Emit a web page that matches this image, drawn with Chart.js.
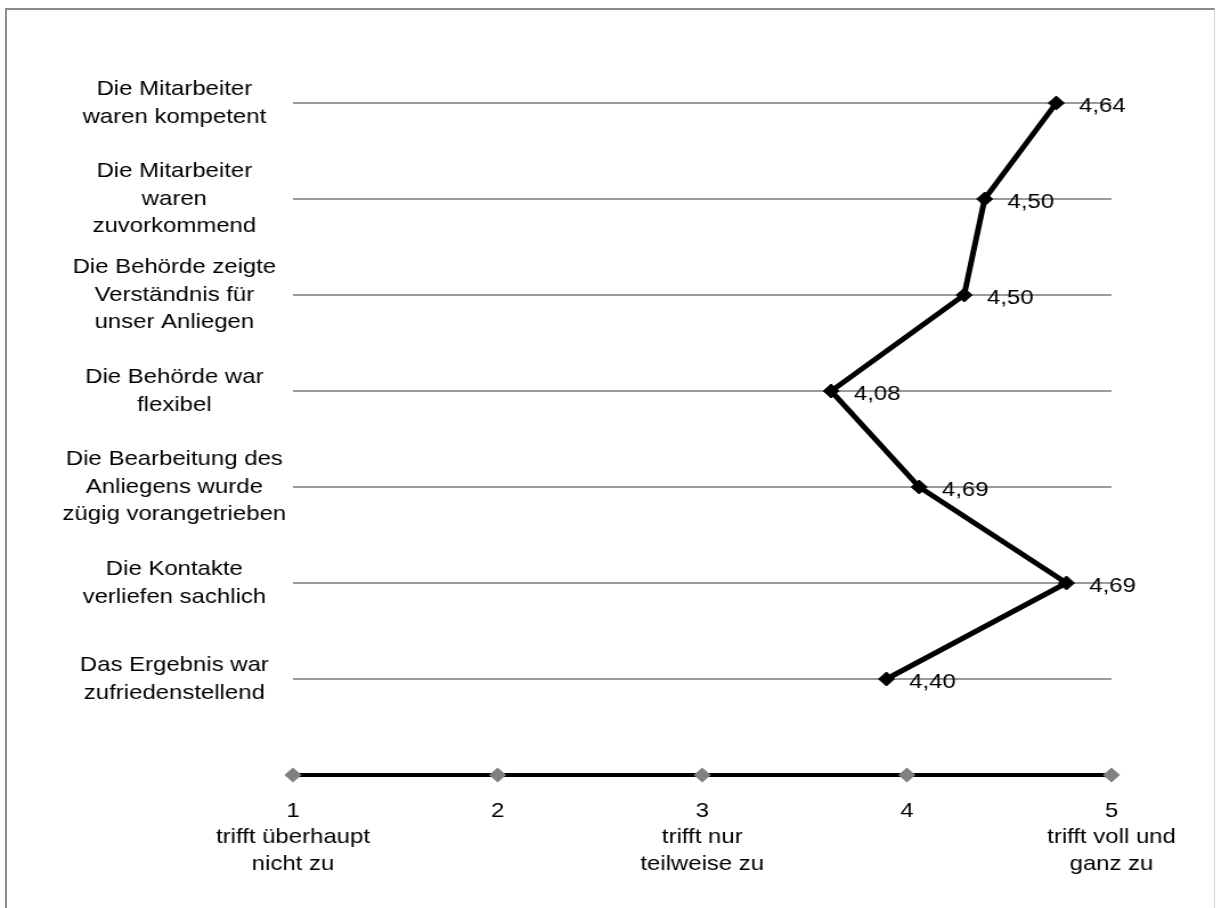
<!DOCTYPE html>
<html>
<head>
<meta charset="utf-8">
<script src="https://cdn.jsdelivr.net/npm/chart.js@4.4.1/dist/chart.umd.min.js"></script>
<style>
  html, body { margin: 0; padding: 0; background: #fff; overflow: hidden; }
  #frame {
    position: absolute; left: 5px; top: 8px; width: 1207px; height: 950px;
    border-left: 2px solid #8c8c8c; border-top: 2px solid #8c8c8c; border-right: 1px solid #d4d4d4;
  }
  #chart { position: absolute; left: 0; top: 0; transform: scaleX(1.14); transform-origin: 0 0; }
</style>
</head>
<body>
<div id="frame"></div>
<canvas id="chart" width="1067" height="908"></canvas>
<script>
// statements (the last, empty one is the row of the scale line)
const statements = [
  ['Die Mitarbeiter', 'waren kompetent'],
  ['Die Mitarbeiter', 'waren', 'zuvorkommend'],
  ['Die Behörde zeigte', 'Verständnis für', 'unser Anliegen'],
  ['Die Behörde war', 'flexibel'],
  ['Die Bearbeitung des', 'Anliegens wurde', 'zügig vorangetrieben'],
  ['Die Kontakte', 'verliefen sachlich'],
  ['Das Ergebnis war', 'zufriedenstellend'],
  ''
];

// where the points sit in the picture
const positions = [4.73, 4.38, 4.28, 3.63, 4.06, 4.78, 3.90];
// the numbers printed next to them
const valueLabels = ['4,64', '4,50', '4,50', '4,08', '4,69', '4,69', '4,40'];

const scaleSteps = [1, 2, 3, 4, 5];
const scaleTexts = [
  ['1', 'trifft überhaupt', 'nicht zu'],
  ['2'],
  ['3', 'trifft nur', 'teilweise zu'],
  ['4'],
  ['5', 'trifft voll und', 'ganz zu']
];

const FONT = '"Liberation Sans", Arial, sans-serif';
Chart.defaults.color = '#000';
Chart.defaults.font.family = FONT;

// prints the value text to the right of each point
const valueLabelPlugin = {
  id: 'valueLabels',
  afterDatasetsDraw(chart) {
    const ctx = chart.ctx;
    const meta = chart.getDatasetMeta(1);
    ctx.save();
    ctx.font = '21px ' + FONT;
    ctx.fillStyle = '#000';
    ctx.textAlign = 'left';
    ctx.textBaseline = 'middle';
    meta.data.forEach((pt, i) => {
      if (valueLabels[i] === undefined) return;
      ctx.fillText(valueLabels[i], pt.x + 20, pt.y + 3);
    });
    ctx.restore();
  }
};

new Chart(document.getElementById('chart'), {
  type: 'line',
  data: {
    labels: statements,
    datasets: [
      {
        label: 'Skala',
        data: scaleSteps.map(v => ({ x: v, y: '' })),
        borderColor: '#000',
        borderWidth: 4,
        pointStyle: 'rectRot',
        pointRadius: 7.5,
        pointBackgroundColor: '#808080',
        pointBorderColor: '#808080',
        pointBorderWidth: 0,
        clip: false,
        tension: 0
      },
      {
        label: 'Bewertung',
        data: positions,
        borderColor: '#000',
        borderWidth: 5,
        pointStyle: 'rectRot',
        pointRadius: 7,
        pointBackgroundColor: '#000',
        pointBorderColor: '#000',
        pointBorderWidth: 1,
        clip: false,
        tension: 0
      }
    ]
  },
  options: {
    responsive: false,
    animation: false,
    indexAxis: 'y',
    layout: { padding: { top: 103, right: 92, left: 0, bottom: 0 } },
    plugins: {
      legend: { display: false },
      tooltip: { enabled: false }
    },
    scales: {
      y: {
        type: 'category',
        offset: false,
        afterFit: s => { s.width = 257; },
        border: { display: false },
        grid: {
          drawTicks: false,
          lineWidth: 2,
          color: c => (c.index === statements.length - 1 ? 'rgba(0,0,0,0)' : '#9a9a9a')
        },
        ticks: {
          crossAlign: 'center',
          padding: 6,
          font: { size: 21, lineHeight: 1.31 }
        }
      },
      x: {
        type: 'linear',
        min: 1,
        max: 5,
        afterFit: s => { s.height = 133; },
        border: { display: false },
        grid: { display: false, drawTicks: false },
        ticks: {
          stepSize: 1,
          padding: 23,
          font: { size: 21, lineHeight: 1.26 },
          callback: v => scaleTexts[scaleSteps.indexOf(v)] || ''
        }
      }
    }
  },
  plugins: [valueLabelPlugin]
});
</script>
</body>
</html>
